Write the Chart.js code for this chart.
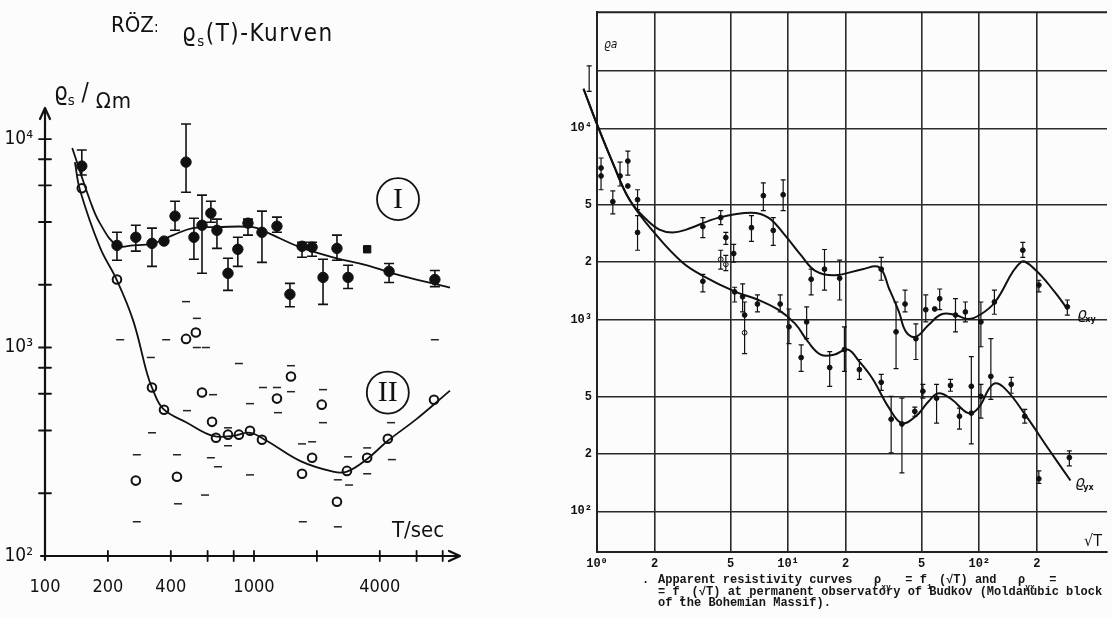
<!DOCTYPE html>
<html>
<head>
<meta charset="utf-8">
<title>Apparent resistivity curves</title>
<script src="https://cdn.jsdelivr.net/npm/chart.js@4.4.1/dist/chart.umd.min.js"></script>
<style>
  html, body { margin: 0; padding: 0; background: #fcfcfc; }
  #wrap { position: relative; width: 1112px; height: 618px; overflow: hidden; background: #fcfcfc; }
  canvas { position: absolute; top: 0; }
  #cl { left: 0; }
  #cr { left: 560px; }
  .t { position: absolute; color: #111; white-space: pre; line-height: 1;
       font-family: "DejaVu Sans Condensed", "DejaVu Sans", sans-serif; }
  .sub { position: relative; font-size: 0.62em; top: 0.35em; }
  .cap { position: absolute; color: #151515; white-space: pre; line-height: 1;
         font-family: "Liberation Mono", "DejaVu Sans Mono", monospace; font-weight: bold; font-size: 12px; }
  .cs { position: relative; font-size: 8px; top: 6px; }
</style>
</head>
<body>
<div id="wrap">
  <canvas id="cl" width="560" height="618"></canvas>
  <canvas id="cr" width="552" height="618"></canvas>

  <!-- left panel headings -->
  <div class="t" style="left:111px;top:14px;font-size:22px;">RÖZ<span style="font-size:15px">:</span></div>
  <div class="t" style="left:182px;top:21px;font-size:24px;letter-spacing:1.5px;">ϱ<span class="sub">s</span>(T)-Kurven</div>
  <div class="t" style="left:54px;top:80px;font-size:24px;">ϱ<span class="sub">s</span> / <span style="position:relative;top:8px;font-size:22px;letter-spacing:1px">Ωm</span></div>
  <div class="t" style="left:392px;top:519px;font-size:22px;">T/sec</div>

  <!-- right panel labels -->
  <div class="t" style="left:604px;top:38px;font-size:12px;font-style:italic;">ϱa</div>
  <div class="t" style="left:1084px;top:533px;font-size:16px;">√T</div>

  <!-- caption -->
  <div class="cap" style="left:642px;top:574px;">.</div>
  <div class="cap" style="left:658px;top:574px;">Apparent resistivity curves   ρ<span class="cs">xy</span>  = f<span class="cs">1</span> (√T) and   ρ<span class="cs">yx</span>  =</div>
  <div class="cap" style="left:658px;top:586px;">= f<span class="cs">2</span> (√T) at permanent observatory of Budkov (Moldanubic block</div>
  <div class="cap" style="left:658px;top:597px;">of the Bohemian Massif).</div>
</div>

<script>
// ---------- left panel: RÖZ rho_s(T) curves ----------
// period T in s, apparent resistivity in Ohm m

// curve I measurements (filled dots with error bars)
const seriesI_T   = [150, 221, 272, 325, 371, 419, 473, 516, 564, 622, 665, 751, 837, 936, 1092, 1288, 1486, 1698, 1897, 2140, 2495, 2820, 3480, 4430, 7340];
const seriesI_rho = [7420, 3090, 3380, 3160, 3240, 4270, 7750, 3380, 3860, 4410, 3650, 2270, 2960, 3950, 3570, 3820, 1800, 3060, 3030, 2170, 2990, 2170, 2960, 2320, 2120];
const seriesI_lo  = [6720, 2620, 2900, 2450, null, 3650, 5560, 2650, 2270, 3990, 2990, 1880, 2450, 3460, 2560, 3570, 1570, 2710, 2740, 1610, 2620, 1920, null, 2050, 1960];
const seriesI_hi  = [8860, 3570, 3860, 3740, null, 5030, 11800, 4170, 5380, 5030, 4130, 2680, 3380, 4130, 4510, 4220, 2030, 3200, 3200, 2650, 3460, 2480, null, 2530, 2340];

// curve II measurements (open circles)
const seriesII_T   = [150, 221, 272, 325, 371, 428, 473, 527, 564, 630, 658, 751, 847, 957, 1092, 1288, 1503, 1698, 1897, 2110, 2495, 2785, 3480, 4370, 7270];
const seriesII_rho = [5810, 2120, 230, 643, 503, 240, 1100, 1180, 608, 440, 369, 382, 382, 399, 361, 569, 726, 248, 296, 532, 182, 256, 296, 365, 562];

// short dash marks scattered around curve II
const dash_T   = [229, 275, 275, 321, 325, 380, 428, 433, 473, 478, 533, 533, 583, 589, 622, 637, 673, 751, 751, 847, 957, 957, 1104, 1288, 1303, 1503, 1503, 1698, 1714, 1897, 2140, 2140, 2520, 2520, 2820, 2850, 3480, 3480, 4530, 4570, 7340];
const dash_rho = [1090, 306, 146, 896, 390, 1090, 306, 178, 1660, 498, 1380, 1000, 196, 1000, 296, 594, 268, 412, 338, 838, 538, 245, 643, 643, 487, 818, 614, 345, 146, 353, 628, 436, 232, 138, 299, 219, 330, 248, 436, 290, 1090];

// fitted curves
const curveI_T    = [135, 164, 183, 221, 264, 329, 410, 510, 665, 989, 1150, 1660, 2390, 3480, 5000, 8670];
const curveI_rho  = [9050, 5090, 3950, 3090, 3090, 3160, 3460, 3740, 3780, 3780, 3570, 3030, 2710, 2480, 2220, 1940];
const curveII_T   = [139, 147, 183, 221, 264, 308, 325, 367, 478, 637, 794, 957, 1150, 1660, 2390, 2785, 3480, 4370, 6030, 8670];
const curveII_rho = [7750, 5690, 3030, 2100, 1350, 750, 643, 509, 436, 377, 377, 390, 357, 286, 254, 254, 292, 357, 456, 621];

// axis ticks
const leftXLabelVals = [100, 200, 400, 1000, 4000];
const leftXLabels    = ['100', '200', '400', '1000', '4000'];
const leftXMarks     = [200, 400, 600, 800, 1000, 2000, 4000, 6000, 8000];
const leftYLabelVals = [100, 1000, 10000];
const leftYLabels    = ['10²', '10³', '10⁴'];
const leftYMarks     = [200, 400, 600, 800, 1000, 2000, 4000, 6000, 8000, 10000];

// circled curve numbers, placed in data coordinates
const romanMarks = [
  { text: 'I',  T: 4890, rho: 5150 },
  { text: 'II', T: 4370, rho: 608 }
];

// ---------- right panel: Budkov observatory ----------
// abscissa sqrt(T), ordinate apparent resistivity
const xy_s   = [0.91, 0.91, 1.05, 1.05, 1.21, 1.32, 1.45, 1.45, 1.63, 1.63, 3.58, 4.44, 4.72, 4.44, 4.72, 5.19, 6.43, 7.42, 8.36, 9.42, 13.2, 15.5, 18.6, 30.7, 36.7, 40.9, 46.6, 52.5, 58.5, 62.1, 75.1, 84.6, 102, 120, 169, 205, 289];
const xy_rho = [18200, 10700, 6210, 5640, 4140, 5640, 6750, 5000, 4240, 2860, 3070, 3420, 2690, 2070, 1950, 2220, 3030, 4450, 2930, 4500, 1630, 1840, 1650, 1840, 866, 1210, 797, 1130, 1140, 1290, 1060, 1100, 976, 1240, 2310, 1520, 1170];
const xy_lo  = [15600, null, 4780, null, 3580, 5000, 5700, null, 3760, 2310, 2690, 3140, 2480, 1840, 1810, 2000, 2570, 3720, 2450, 3720, 1350, 1430, 1270, 1610, 557, 1100, 621, 976, null, 1130, 866, 976, 724, 1070, 2120, 1400, 1060];
const xy_hi  = [21200, null, 7000, null, 4720, 6670, 7600, null, 4780, 3500, 3420, 3720, 2860, 2310, 2170, 2480, 3500, 5190, 3420, 5380, 1840, 2330, 2050, 2120, 1240, 1430, 953, 1350, null, 1450, 1290, 1240, 1240, 1430, 2540, 1610, 1270];

const yx_s   = [3.58, 5.25, 5.78, 5.92, 5.92, 6.91, 9.09, 10.1, 11.7, 12.5, 16.5, 19.7, 23.6, 30.7, 34.6, 39.4, 46.0, 50.7, 59.8, 70.7, 78.8, 90.9, 90.9, 102, 115, 147, 173, 205, 296];
const yx_rho = [1590, 1400, 1320, 1060, 857, 1210, 1210, 920, 636, 976, 564, 700, 550, 472, 303, 286, 333, 424, 390, 455, 314, 450, 326, 399, 507, 461, 314, 148, 191];
const yx_lo  = [1400, 1240, 1100, 667, null, 1100, 1100, 751, 538, 798, 450, 538, 489, 429, 202, 159, 314, 390, 289, 424, 269, 225, null, 307, 385, 414, 289, 140, 173];
const yx_hi  = [1730, 1480, 1540, 1240, null, 1350, 1350, 1140, 741, 1170, 682, 920, 621, 519, 399, 390, 350, 461, 461, 489, 346, 643, null, 461, 798, 501, 341, 163, 207];

const curveXY_s   = [0.85, 1.01, 1.21, 1.48, 1.82, 2.12, 2.48, 2.93, 4.34, 6.43, 7.88, 9.64, 11.7, 13.8, 17.5, 24.5, 30.0, 33.8, 38.0, 41.4, 46.6, 54.4, 63.5, 75.1, 87.7, 102, 121, 165, 195, 248, 289];
const curveXY_rho = [16100, 10240, 6590, 4240, 3330, 2960, 2860, 2960, 3420, 3630, 3420, 2760, 2170, 1810, 1710, 1840, 1880, 1450, 1100, 866, 816, 942, 1070, 1060, 1010, 1070, 1240, 2000, 1840, 1400, 1140];
const curveYX_s   = [0.85, 1.01, 1.21, 1.48, 2.05, 2.79, 3.54, 5.31, 6.75, 8.87, 10.9, 12.7, 14.8, 17.5, 20.5, 23.6, 27.6, 33.8, 39.4, 46.6, 54.4, 61.3, 71.6, 87.7, 98.8, 118, 136, 179, 228, 300];
const curveYX_rho = [16100, 10240, 6590, 4240, 2760, 2000, 1710, 1400, 1290, 1130, 953, 769, 659, 659, 700, 605, 494, 346, 289, 314, 376, 414, 385, 326, 346, 461, 439, 307, 215, 145];

const rightXTickVals = [1, 2, 5, 10, 20, 50, 100, 200];
const rightXLabels   = ['10⁰', '2', '5', '10¹', '2', '5', '10²', '2'];
// the printed grid places its "5" lines a little low; ticks follow the printed lines
const rightYTickVals = [100, 200, 395, 1000, 2000, 3990, 10000, 20000];
const rightYLabels   = ['10²', '2', '5', '10³', '2', '5', '10⁴', ''];

const curveTags = [
  { text: 'ϱ', sub: 'xy', s: 326, rho: 1060 },
  { text: 'ϱ', sub: 'yx', s: 318, rho: 141 }
];

// ---------- helpers ----------
const pts = (xs, ys) => xs.map((x, i) => ({ x: x, y: ys[i] }));
const INK = '#111';

const errorBars = {
  id: 'errorBars',
  afterDatasetsDraw(chart) {
    const ctx = chart.ctx, xs = chart.scales.x, ys = chart.scales.y;
    chart.data.datasets.forEach((ds, i) => {
      if (!ds.errLo || !chart.isDatasetVisible(i)) return;
      ctx.save();
      ctx.strokeStyle = INK;
      ctx.lineWidth = ds.errWidth || 1.4;
      const c = ds.capHalf || 4;
      ds.data.forEach((p, j) => {
        const lo = ds.errLo[j], hi = ds.errHi[j];
        if (lo == null || hi == null) return;
        const x = xs.getPixelForValue(p.x);
        const y1 = ys.getPixelForValue(lo), y2 = ys.getPixelForValue(hi);
        ctx.beginPath();
        ctx.moveTo(x, y1); ctx.lineTo(x, y2);
        ctx.moveTo(x - c, y1); ctx.lineTo(x + c, y1);
        ctx.moveTo(x - c, y2); ctx.lineTo(x + c, y2);
        ctx.stroke();
      });
      ctx.restore();
    });
  }
};

// hand-drawn style axes with arrows and crossing tick marks
const arrowAxes = {
  id: 'arrowAxes',
  afterDraw(chart) {
    const { ctx, chartArea: a, scales: { x, y } } = chart;
    ctx.save();
    ctx.strokeStyle = INK; ctx.lineWidth = 2.2; ctx.lineCap = 'round'; ctx.lineJoin = 'round';
    ctx.beginPath();
    ctx.moveTo(a.left, a.bottom + 4); ctx.lineTo(a.left, a.top);
    ctx.moveTo(a.left - 5, a.top + 11); ctx.lineTo(a.left, a.top); ctx.lineTo(a.left + 5, a.top + 11);
    ctx.moveTo(a.left - 4, a.bottom); ctx.lineTo(a.right, a.bottom);
    ctx.moveTo(a.right - 11, a.bottom - 5); ctx.lineTo(a.right, a.bottom); ctx.lineTo(a.right - 11, a.bottom + 5);
    ctx.stroke();
    ctx.lineWidth = 1.8;
    ctx.beginPath();
    leftXMarks.forEach(v => { const px = x.getPixelForValue(v); ctx.moveTo(px, a.bottom - 5); ctx.lineTo(px, a.bottom + 5); });
    leftYMarks.forEach(v => { const py = y.getPixelForValue(v); ctx.moveTo(a.left - 6, py); ctx.lineTo(a.left + 6, py); });
    ctx.stroke();
    ctx.restore();
  }
};

const romanCircles = {
  id: 'romanCircles',
  afterDatasetsDraw(chart) {
    const { ctx, scales: { x, y } } = chart;
    ctx.save();
    ctx.strokeStyle = INK; ctx.fillStyle = INK; ctx.lineWidth = 1.8;
    ctx.textAlign = 'center'; ctx.textBaseline = 'middle';
    ctx.font = '30px "Liberation Serif", serif';
    romanMarks.forEach(m => {
      const px = x.getPixelForValue(m.T), py = y.getPixelForValue(m.rho);
      ctx.beginPath(); ctx.arc(px, py, 21, 0, Math.PI * 2); ctx.stroke();
      ctx.fillText(m.text, px, py + 1);
    });
    ctx.restore();
  }
};

const frameTop = {
  id: 'frameTop',
  afterDraw(chart) {
    const { ctx, chartArea: a } = chart;
    ctx.save();
    ctx.strokeStyle = '#222'; ctx.lineWidth = 2;
    ctx.beginPath(); ctx.moveTo(a.left, a.top); ctx.lineTo(a.right, a.top); ctx.stroke();
    ctx.restore();
  }
};

const tagCurves = {
  id: 'tagCurves',
  afterDatasetsDraw(chart) {
    const { ctx, scales: { x, y } } = chart;
    ctx.save();
    ctx.fillStyle = INK; ctx.textBaseline = 'middle'; ctx.textAlign = 'left';
    curveTags.forEach(t => {
      const px = x.getPixelForValue(t.s), py = y.getPixelForValue(t.rho);
      ctx.font = 'italic 15px "DejaVu Sans", sans-serif';
      ctx.fillText(t.text, px, py);
      ctx.font = 'bold 8px "DejaVu Sans", sans-serif';
      ctx.fillText(t.sub, px + 8, py + 5);
    });
    ctx.restore();
  }
};

Chart.defaults.animation = false;

// ---------- left chart ----------
new Chart(document.getElementById('cl'), {
  type: 'scatter',
  data: {
    datasets: [
      { label: 'curve I', data: pts(curveI_T, curveI_rho), showLine: true, tension: 0.4,
        borderColor: INK, borderWidth: 1.8, pointRadius: 0, clip: false },
      { label: 'curve II', data: pts(curveII_T, curveII_rho), showLine: true, tension: 0.4,
        borderColor: INK, borderWidth: 1.8, pointRadius: 0, clip: false },
      { label: 'dashes', data: pts(dash_T, dash_rho), pointStyle: 'line', pointRadius: 4,
        borderColor: '#222', borderWidth: 1.5, backgroundColor: '#222' },
      { label: 'II', data: pts(seriesII_T, seriesII_rho), pointStyle: 'circle', pointRadius: 4.3,
        borderColor: INK, borderWidth: 2, backgroundColor: '#fcfcfc' },
      { label: 'I', data: pts(seriesI_T, seriesI_rho), errLo: seriesI_lo, errHi: seriesI_hi, capHalf: 5,
        errWidth: 1.6,
        pointStyle: seriesI_T.map((t, i) => (i === 22 ? 'rect' : 'circle')),
        pointRadius: 5.2, borderColor: INK, borderWidth: 1, backgroundColor: INK }
    ]
  },
  options: {
    responsive: false, devicePixelRatio: 1,
    layout: { padding: { left: 0, top: 108, right: 100, bottom: 0 } },
    plugins: { legend: { display: false }, tooltip: { enabled: false } },
    scales: {
      x: {
        type: 'logarithmic', min: 100, max: 9680,
        grid: { display: false }, border: { display: false },
        afterBuildTicks: s => { s.ticks = leftXLabelVals.map(v => ({ value: v })); },
        afterFit: s => { s.height = 62; },
        ticks: { autoSkip: false, maxRotation: 0, padding: 13, color: INK,
          font: { family: '"DejaVu Sans Condensed", "DejaVu Sans", sans-serif', size: 18 },
          callback: (v, i) => leftXLabels[i] }
      },
      y: {
        type: 'logarithmic', min: 100, max: 14090,
        grid: { display: false }, border: { display: false },
        afterBuildTicks: s => { s.ticks = leftYLabelVals.map(v => ({ value: v })); },
        afterFit: s => { s.width = 45; },
        ticks: { autoSkip: false, padding: 4, color: INK,
          font: { family: '"DejaVu Sans Condensed", "DejaVu Sans", sans-serif', size: 19 },
          callback: (v, i) => leftYLabels[i] }
      }
    }
  },
  plugins: [arrowAxes, errorBars, romanCircles]
});

// ---------- right chart ----------
const openXY = xy_s.map((s, i) => (i === 13 || i === 14 ? '#fcfcfc' : INK));
const openYX = yx_s.map((s, i) => (i === 4 ? '#fcfcfc' : INK));

new Chart(document.getElementById('cr'), {
  type: 'scatter',
  data: {
    datasets: [
      { label: 'rho xy curve', data: pts(curveXY_s, curveXY_rho), showLine: true, tension: 0.4,
        borderColor: INK, borderWidth: 2, pointRadius: 0, clip: false },
      { label: 'rho yx curve', data: pts(curveYX_s, curveYX_rho), showLine: true, tension: 0.4,
        borderColor: INK, borderWidth: 2, pointRadius: 0, clip: false },
      { label: 'rho xy', data: pts(xy_s, xy_rho), errLo: xy_lo, errHi: xy_hi, capHalf: 2.5, errWidth: 1.2,
        pointRadius: 2.4, borderColor: INK, borderWidth: 1, backgroundColor: openXY, clip: false },
      { label: 'rho yx', data: pts(yx_s, yx_rho), errLo: yx_lo, errHi: yx_hi, capHalf: 2.5, errWidth: 1.2,
        pointRadius: 2.4, borderColor: INK, borderWidth: 1, backgroundColor: openYX, clip: false }
    ]
  },
  options: {
    responsive: false, devicePixelRatio: 1,
    layout: { padding: { left: 0, top: 7, right: 0, bottom: 0 } },
    plugins: { legend: { display: false }, tooltip: { enabled: false } },
    scales: {
      x: {
        type: 'logarithmic', min: 1, max: 466,
        grid: { color: '#2a2a2a', lineWidth: 1.6, drawTicks: false },
        border: { display: true, color: '#222', width: 2 },
        afterBuildTicks: s => { s.ticks = rightXTickVals.map(v => ({ value: v })); },
        afterFit: s => { s.height = 66; },
        ticks: { autoSkip: false, maxRotation: 0, padding: 5, color: INK,
          font: { family: '"Liberation Mono", monospace', size: 12, weight: 'bold' },
          callback: (v, i) => rightXLabels[i] }
      },
      y: {
        type: 'logarithmic', min: 61.4, max: 40400,
        grid: { color: '#2a2a2a', lineWidth: 1.6, drawTicks: false },
        border: { display: true, color: '#222', width: 2 },
        afterBuildTicks: s => { s.ticks = rightYTickVals.map(v => ({ value: v })); },
        afterFit: s => { s.width = 37; },
        ticks: { autoSkip: false, padding: 5, color: INK,
          font: { family: '"Liberation Mono", monospace', size: 12, weight: 'bold' },
          callback: (v, i) => rightYLabels[i] }
      }
    }
  },
  plugins: [frameTop, errorBars, tagCurves]
});
</script>
</body>
</html>
